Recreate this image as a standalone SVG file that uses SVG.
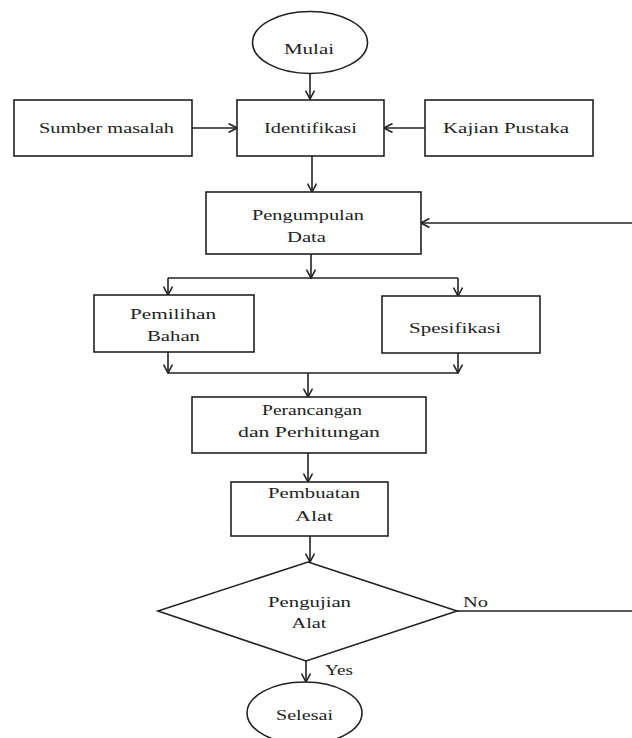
<svg xmlns="http://www.w3.org/2000/svg" width="632" height="738" viewBox="0 0 632 738">
<style>
.s{fill:#fff;stroke:#222;stroke-width:1.6}
.c{fill:none;stroke:#222;stroke-width:1.6}
text{font-family:"Liberation Serif","Times New Roman",serif;font-size:15px;fill:#222;text-anchor:middle}
</style>
<defs>
<marker id="a" viewBox="0 0 10 10" refX="9.5" refY="5" markerWidth="10" markerHeight="10" markerUnits="userSpaceOnUse" orient="auto">
<path d="M1,0.5 L9.5,5 L1,9.5" fill="none" stroke="#222" stroke-width="1.6"/>
</marker>
</defs>
<rect width="632" height="738" fill="#fff"/>
<g id="connectors">
<path class="c" d="M310,73.5 L310,99" marker-end="url(#a)"/>
<path class="c" d="M192,128 L237,128" marker-end="url(#a)"/>
<path class="c" d="M425,128 L384,128" marker-end="url(#a)"/>
<path class="c" d="M312,156 L312,192" marker-end="url(#a)"/>
<path class="c" d="M632,223 L421,223" marker-end="url(#a)"/>
<path class="c" d="M311,254 L311,278" marker-end="url(#a)"/>
<path class="c" d="M168,278 L458,278"/>
<path class="c" d="M168,278 L168,295" marker-end="url(#a)"/>
<path class="c" d="M458,278 L458,296" marker-end="url(#a)"/>
<path class="c" d="M168,352 L168,373" marker-end="url(#a)"/>
<path class="c" d="M458,353 L458,373" marker-end="url(#a)"/>
<path class="c" d="M168,373 L458,373"/>
<path class="c" d="M308,373 L308,397" marker-end="url(#a)"/>
<path class="c" d="M308,453 L308,482" marker-end="url(#a)"/>
<path class="c" d="M310,536 L310,562" marker-end="url(#a)"/>
<path class="c" d="M457,611 L632,611"/>
<path class="c" d="M306,661 L306,682" marker-end="url(#a)"/>
<text x="475.5" y="607" textLength="25" lengthAdjust="spacingAndGlyphs">No</text>
<text x="339" y="675" textLength="28" lengthAdjust="spacingAndGlyphs">Yes</text>
</g>
<g id="mulai">
<ellipse class="s" cx="310" cy="42.5" rx="57.5" ry="31"/>
<text x="309" y="54" textLength="50" lengthAdjust="spacingAndGlyphs">Mulai</text>
</g>
<g id="sumber">
<rect class="s" x="14" y="100" width="178" height="56"/>
<text x="106.5" y="133" textLength="135" lengthAdjust="spacingAndGlyphs">Sumber masalah</text>
</g>
<g id="identifikasi">
<rect class="s" x="237" y="100" width="147" height="56"/>
<text x="310.5" y="133" textLength="93" lengthAdjust="spacingAndGlyphs">Identifikasi</text>
</g>
<g id="kajian">
<rect class="s" x="425" y="100" width="168" height="56"/>
<text x="506" y="133" textLength="126" lengthAdjust="spacingAndGlyphs">Kajian Pustaka</text>
</g>
<g id="pengumpulan">
<rect class="s" x="206" y="192" width="215" height="62"/>
<text x="308" y="220" textLength="112" lengthAdjust="spacingAndGlyphs">Pengumpulan</text>
<text x="306.5" y="242" textLength="39" lengthAdjust="spacingAndGlyphs">Data</text>
</g>
<g id="pemilihan">
<rect class="s" x="94" y="295" width="160" height="57"/>
<text x="173" y="319" textLength="86" lengthAdjust="spacingAndGlyphs">Pemilihan</text>
<text x="173.5" y="341" textLength="53" lengthAdjust="spacingAndGlyphs">Bahan</text>
</g>
<g id="spesifikasi">
<rect class="s" x="382" y="296" width="158" height="57"/>
<text x="455" y="333" textLength="92" lengthAdjust="spacingAndGlyphs">Spesifikasi</text>
</g>
<g id="perancangan">
<rect class="s" x="192" y="397" width="234" height="56"/>
<text x="312" y="415" textLength="100" lengthAdjust="spacingAndGlyphs">Perancangan</text>
<text x="309" y="437" textLength="142" lengthAdjust="spacingAndGlyphs">dan Perhitungan</text>
</g>
<g id="pembuatan">
<rect class="s" x="231" y="482" width="157" height="54"/>
<text x="314" y="498" textLength="92" lengthAdjust="spacingAndGlyphs">Pembuatan</text>
<text x="314" y="521" textLength="38" lengthAdjust="spacingAndGlyphs">Alat</text>
</g>
<g id="pengujian">
<polygon class="s" points="308,562 457,611 306,661 158,611"/>
<text x="309.5" y="607" textLength="83" lengthAdjust="spacingAndGlyphs">Pengujian</text>
<text x="309" y="628" textLength="35" lengthAdjust="spacingAndGlyphs">Alat</text>
</g>
<g id="selesai">
<ellipse class="s" cx="304.5" cy="713" rx="57.5" ry="31"/>
<text x="304.5" y="720" textLength="57" lengthAdjust="spacingAndGlyphs">Selesai</text>
</g>
</svg>
